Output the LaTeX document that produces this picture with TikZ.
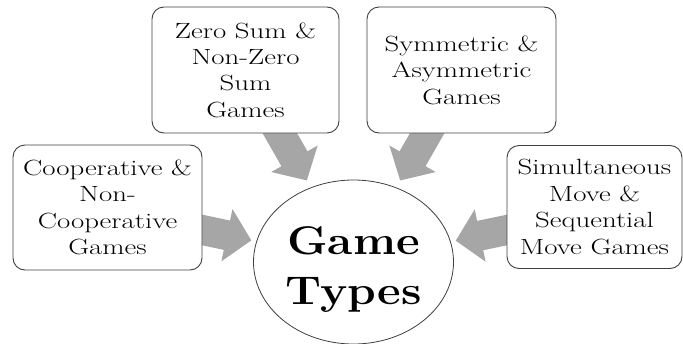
\documentclass[tikz,border=0pt]{standalone}
\usepackage{fontspec}
\setmainfont{Latin Modern Roman}[FakeStretch=1.31]
\newfontfamily\titlefont{Latin Modern Roman}[FakeStretch=1.15]
\usetikzlibrary{arrows.meta}
\usetikzlibrary{shapes}
\usetikzlibrary{backgrounds}
\definecolor{boxline}{RGB}{64,64,64}
\definecolor{arrowfill}{RGB}{166,166,166}
\tikzset{
	align=center,
	type/.style={
		draw=boxline,
		fill=white,
		line width=0.9pt,
		rectangle,
		rounded corners=12pt,
		inner sep=0pt,
		font=\rmfamily\fontsize{22}{26.4}\selectfont,
	},
	root/.style={
		draw=boxline,
		fill=white,
		line width=0.8pt,
		ellipse,
		inner sep=0pt,
		minimum width=200pt,
		minimum height=164pt,
	},
	title/.style={
		font=\titlefont\bfseries\fontsize{40}{50}\selectfont,
	},
	feed/.style={
		draw=arrowfill,
		line width=30pt,
		-{Triangle[width=52pt,length=25pt]},
	},
}

\begin{document}
\begin{tikzpicture}[x=1pt,y=-1pt]
	\useasboundingbox (0,0) rectangle (683,343);

	\node[root] (G) at (353.5,262) {};
	\node[title] (GT) at (353.5,270) {Game\\Types};

	\node[type,minimum width=189pt,minimum height=125pt] (T1) at (107.5,207.5) {Cooperative \&\\Non-\\Cooperative\\Games};
	\node[type,minimum width=187pt,minimum height=126pt] (T2) at (245.5,70) {Zero Sum \&\\Non-Zero\\Sum\\Games};
	\node[type,minimum width=189pt,minimum height=126pt] (T3) at (461.5,70) {Symmetric \&\\Asymmetric\\Games};
	\node[type,minimum width=175pt,minimum height=123pt] (T4) at (594.5,207) {Simultaneous\\Move \&\\Sequential\\Move Games};

	\begin{scope}[on background layer]
		\draw[feed,shorten >=5pt] ([xshift=-10pt,yshift=-20.4pt]T1.east) -- (G);
		\draw[feed,shorten >=8pt] ([xshift=29.5pt,yshift=8.7pt]T2.south) -- (G);
		\draw[feed,shorten >=8pt] ([xshift=-29.5pt,yshift=8.7pt]T3.south) -- (G);
		\draw[feed,shorten >=5pt] ([xshift=9.8pt,yshift=-21pt]T4.west) -- (G);
	\end{scope}

\end{tikzpicture}
\end{document}
